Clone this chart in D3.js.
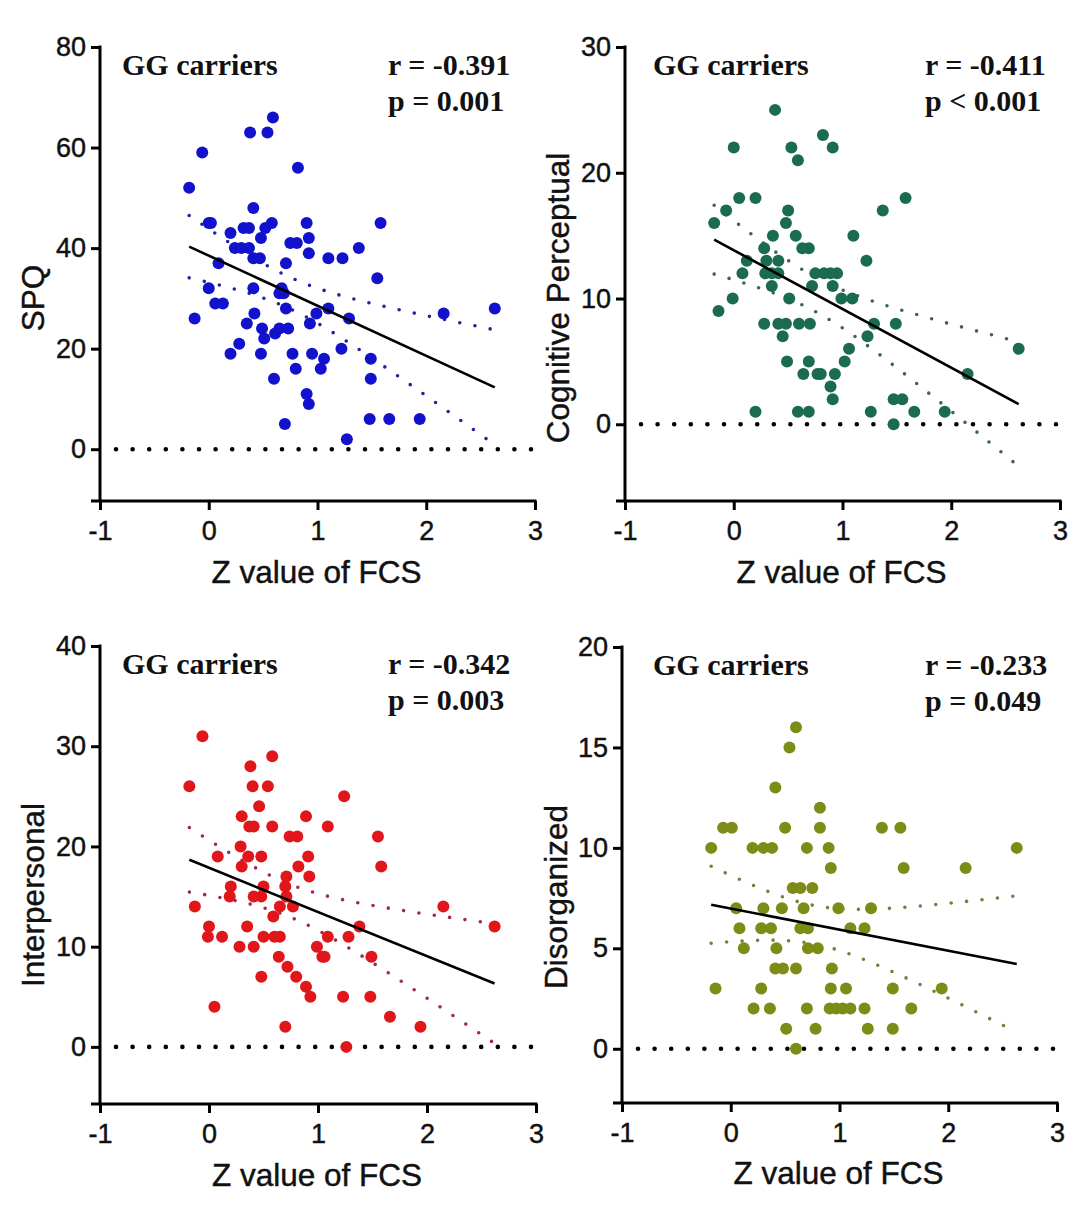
<!DOCTYPE html>
<html><head><meta charset="utf-8">
<script src="https://cdn.jsdelivr.net/npm/d3@7"></script>
<style>
html,body{margin:0;padding:0;background:#fff;}
svg{display:block;}
</style></head>
<body>
<svg id="chart" width="1080" height="1223"></svg>
<script>
// ---------------- data ----------------
const xTickValues = [-1, 0, 1, 2, 3];
const xAxisTitle = "Z value of FCS";
const groupLabel = "GG carriers";

// Panel 1: SPQ
const spqX = [-0.18,-0.06,-0.13,0.00,0.02,0.00,0.09,0.06,0.13,0.20,0.20,0.28,0.24,0.30,0.37,0.32,0.37,0.38,0.41,0.41,0.47,0.41,0.42,0.35,0.48,0.49,0.51,0.48,0.52,0.54,0.59,0.58,0.60,0.61,0.65,0.69,0.67,0.65,0.73,0.71,0.71,0.70,0.75,0.81,0.82,0.77,0.80,0.90,0.92,0.92,0.93,0.95,0.90,0.92,0.99,1.03,1.06,1.10,1.10,1.23,1.22,1.29,1.27,1.38,1.49,1.49,1.48,1.55,1.58,1.66,1.94,2.16,2.63];
const spqY = [52,59,26,45,45,32,37,29,29,43,19,21,40,40,40,44,44,63,48,38,38,32,27,25,19,24,22,42,44,63,66,45,14,23,31,31,32,24,24,37,28,5,41,41,56,19,16,45,42,39,25,19,11,9,27,16,18,38,28,38,20,26,2,40,18,14,6,34,45,6,6,27,28];
const spqTicks = [0, 20, 40, 60, 80];
const spqStats = ["r = -0.391", "p = 0.001"];
const spqFit = [38.5, -9.96];   // intercept, slope of the drawn fit line

// Panel 2: Cognitive Perceptual
const cogX = [0.38,0.00,0.53,0.59,0.82,0.91,0.05,0.20,1.58,-0.07,0.50,1.37,-0.18,0.48,0.36,0.57,1.10,0.28,0.63,0.69,0.12,0.30,0.41,1.22,0.08,0.29,0.35,0.41,0.75,0.83,0.89,0.95,0.35,0.72,0.91,-0.01,0.51,0.99,1.09,-0.14,0.28,0.41,0.48,0.60,0.70,1.29,1.49,0.45,1.23,1.06,2.62,0.49,0.69,1.02,0.64,0.77,0.80,0.93,2.15,0.89,0.91,1.47,1.55,0.20,0.59,0.69,1.26,1.66,1.94,1.47];
const cogY = [25,22,22,21,23,22,18,18,18,17,17,17,16,16,15,15,15,14,14,14,13,13,13,13,12,12,12,12,12,12,12,12,11,11,11,10,10,10,10,9,8,8,8,8,8,8,8,7,7,6,6,5,5,5,4,4,4,4,4,3,2,2,2,1,1,1,1,1,1,0];
const cogTicks = [0, 10, 20, 30];
const cogStats = ["r = -0.411", "p < 0.001"];
const cogFit = [13.84, -4.67];

// Panel 3: Interpersonal
const intX = [-0.06,-0.18,-0.13,0.38,0.58,0.40,0.54,0.46,0.30,0.89,1.24,0.37,0.41,0.58,1.09,0.74,0.81,1.55,0.29,0.08,0.36,0.48,0.91,0.30,0.82,1.58,0.71,0.92,0.20,0.50,0.70,0.19,0.41,0.48,0.71,0.65,0.77,2.15,0.59,1.38,2.62,0.00,-0.01,0.12,0.35,0.50,0.60,0.65,1.09,1.28,0.28,0.41,0.99,1.04,1.06,0.64,1.49,0.72,0.48,0.80,0.89,0.93,1.23,1.48,0.05,1.66,0.70,1.94,1.26];
const intY = [31,26,14,28,29,26,26,24,23,23,25,22,22,22,22,21,21,21,20,19,19,19,19,18,18,18,17,17,16,16,16,15,15,15,15,14,14,14,13,12,12,12,11,11,12,11,11,11,11,11,10,10,10,9,9,9,9,8,7,7,6,5,5,5,4,3,2,2,0];
const intTicks = [0, 10, 20, 30, 40];
const intStats = ["r = -0.342", "p = 0.003"];
const intFit = [17.87, -4.41];

// Panel 4: Disorganized
const disX = [0.60,0.54,0.41,0.82,-0.07,0.01,0.50,0.82,1.39,1.56,-0.18,0.20,0.30,0.38,0.70,0.90,2.63,0.92,1.59,2.16,0.57,0.64,0.75,0.05,0.30,0.47,0.67,0.99,1.29,0.08,0.28,0.37,0.64,0.71,1.10,1.23,0.12,0.42,0.71,0.80,0.41,0.48,0.60,0.93,-0.14,0.28,0.92,1.06,1.49,1.94,0.21,0.36,0.70,0.91,0.97,1.03,1.10,1.23,1.66,0.51,0.78,1.26,1.49,0.60];
const disY = [16,15,13,12,11,11,11,11,11,11,10,10,10,10,10,10,10,9,9,9,8,8,8,7,7,7,7,7,7,6,6,6,6,6,6,6,5,5,5,5,4,4,4,4,3,3,3,3,3,3,2,2,2,2,2,2,2,2,2,1,1,1,1,0];
const disTicks = [0, 5, 10, 15, 20];
const disStats = ["r = -0.233", "p = 0.049"];
const disFit = [6.98, -1.05];

// ---------------- layout / style ----------------
const panels = [
  {xs: spqX, ys: spqY, ticks: spqTicks, stats: spqStats, fit: spqFit, title: "SPQ", yDomain: [-10.3, 80],
   box: {l: 100, r: 535, t: 47, b: 501}, yTitleX: 44, yTitleY: 298, xTitleY: 583, labelX: 122, statsX: 388,
   color: "#1212cc", ciColor: "#23239a"},
  {xs: cogX, ys: cogY, ticks: cogTicks, stats: cogStats, fit: cogFit, title: "Cognitive Perceptual", yDomain: [-6.1, 30],
   box: {l: 625, r: 1060, t: 47, b: 501}, yTitleX: 569, yTitleY: 298, xTitleY: 583, labelX: 653, statsX: 925,
   color: "#1b6b50", ciColor: "#3f6356"},
  {xs: intX, ys: intY, ticks: intTicks, stats: intStats, fit: intFit, title: "Interpersonal", yDomain: [-5.7, 40],
   box: {l: 100, r: 536, t: 646, b: 1104}, yTitleX: 44, yTitleY: 895, xTitleY: 1186, labelX: 122, statsX: 388,
   color: "#e0161a", ciColor: "#9e2a4c"},
  {xs: disX, ys: disY, ticks: disTicks, stats: disStats, fit: disFit, title: "Disorganized", yDomain: [-2.7, 20],
   box: {l: 622, r: 1057, t: 647, b: 1103}, yTitleX: 567, yTitleY: 897, xTitleY: 1184, labelX: 653, statsX: 925,
   color: "#7d8b17", ciColor: "#72803f"}
];

const svg = d3.select("#chart");
const sansFont = "'Liberation Sans', Arial, sans-serif";
const serifFont = "'Liberation Serif', 'Times New Roman', serif";

// 95% confidence band of the fitted line, using residuals of the data
function band(xs, ys, fit) {
  const n = xs.length;
  const mx = d3.mean(xs);
  let sxx = 0, sse = 0;
  for (let i = 0; i < n; i++) {
    sxx += (xs[i] - mx) ** 2;
    sse += (ys[i] - (fit[0] + fit[1] * xs[i])) ** 2;
  }
  const s = Math.sqrt(sse / (n - 2));
  const t = 1.995;
  return x => t * s * Math.sqrt(1 / n + (x - mx) ** 2 / sxx);
}

function styleText(sel, size) {
  sel.style("font-family", sansFont).style("font-size", size + "px")
     .attr("fill", "#111").attr("stroke", "#111").attr("stroke-width", 0.45);
}

panels.forEach(p => {
  const g = svg.append("g");
  const x = d3.scaleLinear().domain([-1, 3]).range([p.box.l, p.box.r]);
  const y = d3.scaleLinear().domain(p.yDomain).range([p.box.b, p.box.t]);

  // zero reference line (dotted)
  g.append("line")
    .attr("x1", x(-1) + 16).attr("x2", x(3))
    .attr("y1", y(0)).attr("y2", y(0))
    .attr("stroke", "#000").attr("stroke-width", 4.6)
    .attr("stroke-linecap", "round").attr("stroke-dasharray", "0 16.6");

  // 95% CI
  const ci = band(p.xs, p.ys, p.fit);
  const x0 = d3.min(p.xs), x1 = d3.max(p.xs);
  const grid = d3.range(0, 101).map(i => x0 + (x1 - x0) * i / 100);
  const lineGen = d3.line().x(d => x(d[0])).y(d => y(d[1]));
  [1, -1].forEach(sign => {
    g.append("path")
      .attr("d", lineGen(grid.map(v => [v, p.fit[0] + p.fit[1] * v + sign * ci(v)])))
      .attr("fill", "none").attr("stroke", p.ciColor).attr("stroke-width", 3.6)
      .attr("stroke-linecap", "round").attr("stroke-dasharray", "0 15.5");
  });

  // points
  g.append("g").selectAll("circle")
    .data(p.xs.map((v, i) => [v, p.ys[i]]))
    .join("circle")
    .attr("cx", d => x(d[0])).attr("cy", d => y(d[1]))
    .attr("r", 6).attr("fill", p.color);

  // fit line
  g.append("line")
    .attr("x1", x(x0)).attr("y1", y(p.fit[0] + p.fit[1] * x0))
    .attr("x2", x(x1)).attr("y2", y(p.fit[0] + p.fit[1] * x1))
    .attr("stroke", "#000").attr("stroke-width", 2.6);

  // axes
  const fmt = d => String(d);
  const yAxis = g.append("g").attr("transform", `translate(${p.box.l},0)`)
    .call(d3.axisLeft(y).tickValues(p.ticks).tickFormat(fmt).tickSize(9).tickPadding(5));
  const xAxis = g.append("g").attr("transform", `translate(0,${p.box.b})`)
    .call(d3.axisBottom(x).tickValues(xTickValues).tickFormat(fmt).tickSize(9).tickPadding(11));
  [yAxis, xAxis].forEach(ax => {
    ax.select(".domain").remove();
    ax.selectAll(".tick line").attr("stroke", "#000").attr("stroke-width", 3);
    styleText(ax.selectAll(".tick text"), 27);
  });
  g.append("line").attr("x1", p.box.l).attr("x2", p.box.l).attr("y1", y(p.yDomain[1]) - 1.5).attr("y2", p.box.b)
    .attr("stroke", "#000").attr("stroke-width", 3);
  g.append("line").attr("x1", p.box.l - 9).attr("x2", p.box.r + 1.5).attr("y1", p.box.b).attr("y2", p.box.b)
    .attr("stroke", "#000").attr("stroke-width", 3);

  // axis titles
  styleText(g.append("text").attr("x", (p.box.l + p.box.r) / 2 - 1).attr("y", p.xTitleY)
    .attr("text-anchor", "middle").text(xAxisTitle), 31.5);
  styleText(g.append("text").attr("transform", `translate(${p.yTitleX},${p.yTitleY}) rotate(-90)`)
    .attr("text-anchor", "middle").text(p.title), 31.5);

  // annotations
  g.append("text").attr("x", p.labelX).attr("y", p.box.t + 28)
    .style("font-family", serifFont).style("font-size", "30px").style("font-weight", "bold")
    .attr("fill", "#111").text(groupLabel);
  p.stats.forEach((s, i) => {
    g.append("text").attr("x", p.statsX).attr("y", p.box.t + 28 + i * 36)
      .style("font-family", serifFont).style("font-size", "30px").style("font-weight", "bold")
      .attr("fill", "#111").text(s);
  });
});
</script>
</body></html>
